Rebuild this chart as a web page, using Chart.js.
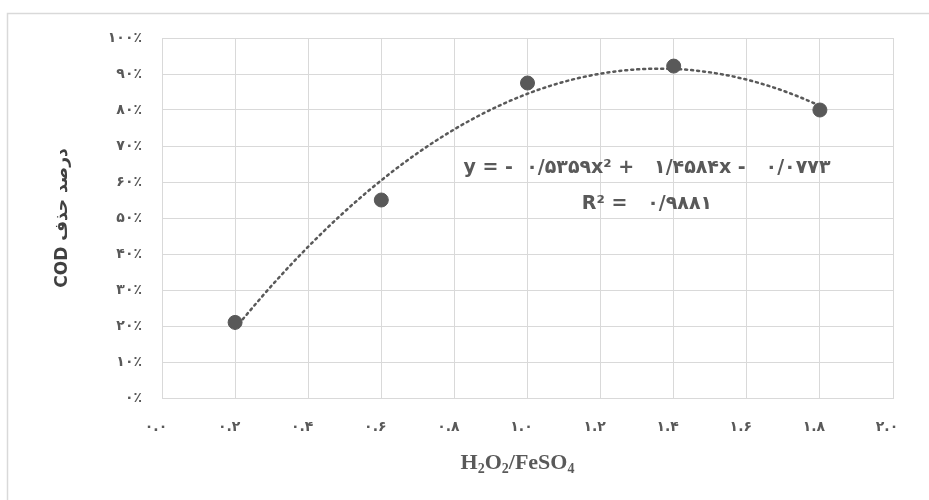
<!DOCTYPE html>
<html><head><meta charset="utf-8">
<script src="https://cdn.jsdelivr.net/npm/chart.js@4"></script>
<style>html,body{margin:0;padding:0;background:#fff}#wrap{width:929px;height:500px;position:relative}</style>
</head><body><div id="wrap"><canvas id="c" width="929" height="500"></canvas></div>
<script>
// ---- data ----
const ratio = [0.2, 0.6, 1.0, 1.4, 1.8];
const codRemoval = [0.21, 0.55, 0.875, 0.922, 0.80];
const trendCoef = [-0.5359, 1.4584, -0.0773]; // a, b, c of displayed trendline
const xTickLabels = ['۰.۰','۰.۲','۰.۴','۰.۶','۰.۸','۱.۰','۱.۲','۱.۴','۱.۶','۱.۸','۲.۰'];
const yTickLabels = ['۰٪','۱۰٪','۲۰٪','۳۰٪','۴۰٪','۵۰٪','۶۰٪','۷۰٪','۸۰٪','۹۰٪','۱۰۰٪'];
const xTitleParts = [['H',0],['2',1],['O',0],['2',1],['/FeSO',0],['4',1]];
const yTitle = 'درصد حذف COD';
const eqLine1 = 'y = -  ۰/۵۳۵۹x² +   ۱/۴۵۸۴x -   ۰/۰۷۷۳';
const eqLine2 = 'R² =   ۰/۹۸۸۱';

// trendline from the displayed polynomial
const trend = [];
for (let i = 0; i <= 80; i++) {
  const x = ratio[0] + (ratio[ratio.length-1] - ratio[0]) * i / 80;
  trend.push({x, y: trendCoef[0]*x*x + trendCoef[1]*x + trendCoef[2]});
}

const GRAY = '#595959';
const deco = {
  id: 'deco',
  beforeDraw(chart) {
    const ctx = chart.ctx;
    ctx.save();
    ctx.fillStyle = '#fff';
    ctx.fillRect(0, 0, chart.width, chart.height);
    ctx.strokeStyle = '#d9d9d9';
    ctx.lineWidth = 1.5;
    ctx.strokeRect(7.5, 13.5, chart.width + 20, chart.height + 20);
    ctx.restore();
  },
  afterDraw(chart) {
    const ctx = chart.ctx, ca = chart.chartArea;
    ctx.save();
    // y title
    ctx.translate(63, (ca.top + ca.bottom) / 2);
    ctx.rotate(-Math.PI / 2);
    ctx.direction = 'rtl';
    ctx.textAlign = 'center';
    ctx.textBaseline = 'middle';
    ctx.fillStyle = '#404040';
    ctx.font = 'bold 17px "DejaVu Sans"';
    ctx.fillText(yTitle, 0, 0);
    ctx.restore();

    // x title with subscripts
    ctx.save();
    ctx.fillStyle = GRAY;
    ctx.textBaseline = 'alphabetic';
    ctx.direction = 'ltr';
    const big = 'bold 22px "Liberation Serif"', small = 'bold 14px "Liberation Serif"';
    let w = 0;
    for (const [t, s] of xTitleParts) { ctx.font = s ? small : big; w += ctx.measureText(t).width; }
    let x = (ca.left + ca.right) / 2 - w / 2 - 10;
    const base = 469;
    for (const [t, s] of xTitleParts) {
      ctx.font = s ? small : big;
      ctx.fillText(t, x, s ? base + 4 : base);
      x += ctx.measureText(t).width;
    }
    ctx.restore();

    // trendline equation
    ctx.save();
    ctx.fillStyle = GRAY;
    ctx.direction = 'ltr';
    ctx.textAlign = 'center';
    ctx.textBaseline = 'middle';
    ctx.font = 'bold 19px "DejaVu Sans"';
    ctx.fillText(eqLine1, 647, 168);
    ctx.fillText(eqLine2, 647, 204);
    ctx.restore();
  }
};

new Chart(document.getElementById('c'), {
  type: 'scatter',
  data: {
    datasets: [
      { label: 'data', data: ratio.map((x, i) => ({x, y: codRemoval[i]})),
        backgroundColor: GRAY, borderColor: GRAY, pointRadius: 7, pointHoverRadius: 7, order: 0 },
      { label: 'trend', data: trend, showLine: true, pointRadius: 0, borderColor: GRAY,
        borderWidth: 2.5, borderDash: [2, 4], borderCapStyle: 'round', fill: false, order: 1 }
    ]
  },
  options: {
    responsive: false, animation: false,
    layout: { padding: { left: 0, right: 36, top: 38, bottom: 0 } },
    plugins: { legend: { display: false }, tooltip: { enabled: false } },
    scales: {
      x: {
        type: 'linear', min: 0, max: 2,
        afterFit: s => { s.height = 102; },
        ticks: { stepSize: 0.2, autoSkip: false, maxRotation: 0, padding: 21, labelOffset: -6,
          color: GRAY, font: { family: 'DejaVu Sans', size: 14, weight: 'bold' },
          callback: (v, i) => xTickLabels[i] },
        grid: { color: '#d9d9d9', drawTicks: false },
        border: { color: '#d9d9d9' }
      },
      y: {
        min: 0, max: 1,
        afterFit: s => { s.width = 162; },
        ticks: { stepSize: 0.1, padding: 20, color: GRAY,
          font: { family: 'DejaVu Sans', size: 14, weight: 'bold' },
          callback: (v, i) => yTickLabels[i] },
        grid: { color: '#d9d9d9', drawTicks: false },
        border: { color: '#d9d9d9' }
      }
    }
  },
  plugins: [deco]
});
</script></body></html>
